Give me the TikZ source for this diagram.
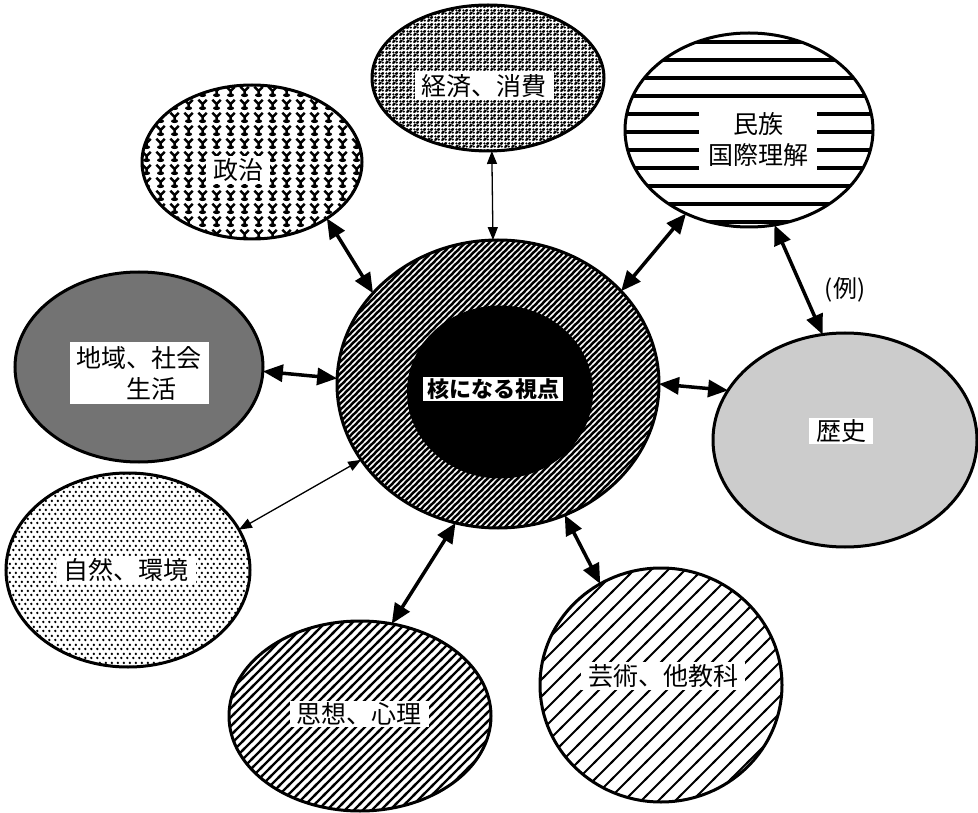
\documentclass[tikz,border=0pt]{standalone}
\usepackage{fontspec}
\newfontfamily\jp{Noto Sans CJK JP}
\usetikzlibrary{arrows.meta,shapes.geometric,patterns}

\pgfdeclarepatternformonly{artLines}{\pgfqpoint{-2pt}{-2pt}}{\pgfqpoint{19pt}{19pt}}{\pgfqpoint{17pt}{17pt}}
{\pgfsetlinewidth{1.8pt}\pgfpathmoveto{\pgfqpoint{-2pt}{-2pt}}\pgfpathlineto{\pgfqpoint{19pt}{19pt}}\pgfusepath{stroke}}

\pgfdeclarepatternformonly{thoughtLines}{\pgfqpoint{-2pt}{-2pt}}{\pgfqpoint{11pt}{11pt}}{\pgfqpoint{9pt}{9pt}}
{\pgfsetlinewidth{2.4pt}\pgfpathmoveto{\pgfqpoint{-2pt}{-2pt}}\pgfpathlineto{\pgfqpoint{11pt}{11pt}}\pgfusepath{stroke}}

\pgfdeclarepatternformonly{coreLines}{\pgfqpoint{-2pt}{-2pt}}{\pgfqpoint{8pt}{8pt}}{\pgfqpoint{6pt}{6pt}}
{\pgfsetlinewidth{1.2pt}\pgfpathmoveto{\pgfqpoint{-2pt}{-2pt}}\pgfpathlineto{\pgfqpoint{8pt}{8pt}}\pgfusepath{stroke}}

\pgfdeclarepatternformonly{natureDots}{\pgfqpoint{0pt}{0pt}}{\pgfqpoint{6pt}{9pt}}{\pgfqpoint{6pt}{9pt}}
{\pgfpathcircle{\pgfqpoint{1.5pt}{2.25pt}}{1.45pt}\pgfpathcircle{\pgfqpoint{4.5pt}{6.75pt}}{1.45pt}\pgfusepath{fill}}

\pgfdeclarepatternformonly{econBlobs}{\pgfqpoint{0pt}{0pt}}{\pgfqpoint{7pt}{7pt}}{\pgfqpoint{7pt}{7pt}}
{\pgfsetlinewidth{2.7pt}\pgfsetroundcap
\pgfpathmoveto{\pgfqpoint{1.3pt}{1.3pt}}\pgfpathlineto{\pgfqpoint{3pt}{2.4pt}}
\pgfpathmoveto{\pgfqpoint{4.4pt}{4.8pt}}\pgfpathlineto{\pgfqpoint{5.9pt}{5.5pt}}
\pgfusepath{stroke}
\pgfpathcircle{\pgfqpoint{5.5pt}{1.6pt}}{1.4pt}\pgfpathcircle{\pgfqpoint{1.6pt}{5.2pt}}{1.4pt}\pgfusepath{fill}}

\pgfdeclarepatternformonly{seijiY}{\pgfqpoint{0pt}{0pt}}{\pgfqpoint{14pt}{13pt}}{\pgfqpoint{14pt}{13pt}}
{\pgfsetlinewidth{2.6pt}
\pgfpathmoveto{\pgfqpoint{2.5pt}{12pt}}\pgfpathlineto{\pgfqpoint{7pt}{7.5pt}}\pgfpathlineto{\pgfqpoint{11.5pt}{12pt}}
\pgfpathmoveto{\pgfqpoint{7pt}{7.5pt}}\pgfpathlineto{\pgfqpoint{7pt}{4pt}}\pgfusepath{stroke}
\pgfpathellipse{\pgfqpoint{7pt}{3pt}}{\pgfqpoint{3.8pt}{0pt}}{\pgfqpoint{0pt}{2pt}}\pgfusepath{fill}}

\tikzset{
  ell/.style={ellipse, draw=black, line width=3pt, inner sep=0pt, outer sep=0pt},
  lbl/.style={fill=white, inner xsep=7pt, inner ysep=2pt, align=center,
    font=\jp\fontsize{25}{31}\selectfont},
  dbl/.style={{Triangle[length=20pt,width=17pt]}-{Triangle[length=20pt,width=17pt]}, line width=3.5pt},
  thinarr/.style={{Triangle[length=13pt,width=10pt]}-{Triangle[length=13pt,width=10pt]}, line width=1.3pt},
  stripe/.style={line width=4pt}
}

\begin{document}
\begin{tikzpicture}[x=1pt,y=-1pt]
\useasboundingbox[fill=white] (0,0) rectangle (978,813);

% central circle
\node[ell, minimum width=322, minimum height=288, preaction={fill=black},
      pattern=coreLines, pattern color=white] (core) at (498,384) {};
\node[ellipse, fill=black, inner sep=0pt, minimum width=186, minimum height=173] (coreIn) at (500,392) {};

% surrounding ellipses
\node[ell, minimum width=220, minimum height=154, pattern=seijiY] (seiji) at (252,162) {};
\node[ell, minimum width=232, minimum height=146, pattern=econBlobs] (keizai) at (488,78) {};

\begin{scope}
  \clip (749,130) ellipse [x radius=124, y radius=97];
  \foreach \yy in {42,60,...,230} { \draw[stripe] (600,\yy) -- (900,\yy); }
\end{scope}
\node[ell, minimum width=248, minimum height=194] (minzoku) at (749,130) {};

\node[ell, minimum width=248, minimum height=190, fill=black!55] (chiiki) at (139,367) {};
\node[ell, minimum width=264, minimum height=214, fill=black!20] (rekishi) at (845,440) {};
\node[ell, minimum width=244, minimum height=194, pattern=natureDots] (shizen) at (128,570) {};
\node[ell, minimum width=262, minimum height=190, pattern=thoughtLines] (shisou) at (360,716) {};
\node[ell, minimum width=242, minimum height=234, pattern=artLines] (geijutsu) at (661,685) {};

% connectors
\draw[dbl] (seiji.-37) -- (core.144);
\draw[thinarr] (keizai.-87) -- (core.92);
\draw[dbl] (minzoku.-127) -- (core.37);
\draw[dbl] (minzoku.-75) -- (rekishi.102);
\draw[dbl] (chiiki.-2) -- (core.178);
\draw[dbl] (core.0) -- (rekishi.157);
\draw[thinarr] (shizen.20) -- (core.-151);
\draw[dbl] (shisou.71) -- (core.-107);
\draw[dbl] (geijutsu.121) -- (core.-63);

% labels
\node[lbl] (seijiT) at (238,170) {政治};
\node[lbl] (keizaiT) at (484,86) {経済、消費};
\node[lbl, inner xsep=9pt, inner ysep=5pt] (minzokuT) at (758,140) {民族\\国際理解};
\node[lbl, inner ysep=4pt] (chiikiT) at (139,373) {地域、社会\\\hspace*{1em}生活};
\node[lbl] (rekishiT) at (841,431) {歴史};
\node[lbl] (shizenT) at (126,570) {自然、環境};
\node[lbl] (shisouT) at (359,714) {思想、心理};
\node[lbl] (geijutsuT) at (663,676) {芸術、他教科};
\node[lbl, inner xsep=4pt, font=\jp\bfseries\fontsize{22}{26}\selectfont] (coreT) at (493,389) {核になる視点};
\node[font=\jp\fontsize{24}{28}\selectfont] (rei) at (845,290) {(例)};
\end{tikzpicture}
\end{document}
